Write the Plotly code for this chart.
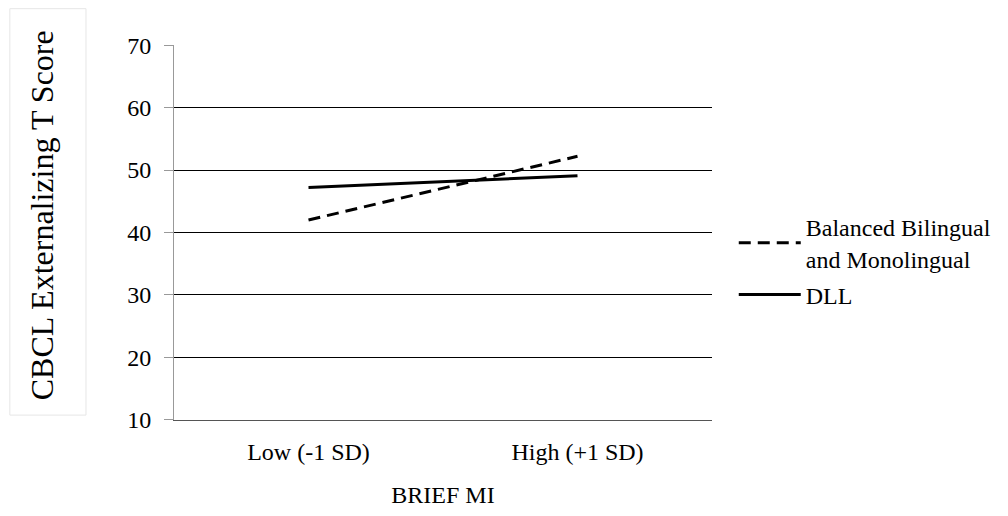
import plotly.graph_objects as go

categories = ["Low (-1 SD)", "High (+1 SD)"]
balanced = [42.0, 52.2]
dll = [47.2, 49.1]
y_ticks = [10, 20, 30, 40, 50, 60, 70]

FONT = "Liberation Serif"

W, H = 1008, 516
L, T, PW, PH = 174, 45, 544, 382


def px(fx):
    return (fx - L) / PW


def py(fy):
    return (T + PH - fy) / PH


fig = go.Figure()
fig.add_trace(go.Scatter(x=categories, y=balanced, mode="lines", legendgroup="a",
                         name="Balanced Bilingual<br>and Monolingual",
                         line=dict(color="black", width=3, dash="12px,7px")))
fig.add_trace(go.Scatter(x=categories, y=dll, mode="lines", name="DLL", legendgroup="b",
                         line=dict(color="black", width=3)))

fig.update_layout(
    width=W, height=H,
    margin=dict(l=L, r=W - L - PW, t=T, b=H - T - PH),
    paper_bgcolor="white", plot_bgcolor="white",
    font=dict(family=FONT, size=24, color="black"),
    showlegend=True,
    legend=dict(x=px(740), y=py(265), xanchor="left", yanchor="middle",
                font=dict(family=FONT, size=24), tracegroupgap=2,
                itemwidth=62, bgcolor="rgba(0,0,0,0)"),
    xaxis=dict(type="category", range=[-0.5, 1.5], showgrid=False,
               showline=True, linecolor="#555", linewidth=1, ticks="",
               ticklabelstandoff=10,
               tickfont=dict(family=FONT, size=24), zeroline=False,
               title=dict(text="BRIEF MI", font=dict(family=FONT, size=24), standoff=22)),
    yaxis=dict(range=[9.98, 70.02], tickvals=y_ticks, showgrid=True, gridcolor="black",
               gridwidth=1, showline=True, linecolor="#999", linewidth=1,
               ticks="outside", ticklen=9, tickcolor="#999", ticklabelstandoff=8,
               tickfont=dict(family=FONT, size=24), zeroline=False),
)

fig.add_shape(type="rect", xref="paper", yref="paper",
              x0=px(8), x1=px(85), y0=py(422), y1=py(8),
              line=dict(color="#e6e6e6", width=1), fillcolor="white", layer="below")
fig.add_annotation(text="CBCL Externalizing T Score", xref="paper", yref="paper",
                   x=px(40), y=py(218), textangle=-90, xanchor="center", yanchor="middle",
                   showarrow=False, font=dict(family=FONT, size=32, color="black"))

fig.write_html(
    "out.html",
    config={"displayModeBar": False},
    post_script=(
        "document.body.style.margin='0';"
        "document.body.style.overflow='hidden';"
        "document.documentElement.style.overflow='hidden';"
    ),
)
